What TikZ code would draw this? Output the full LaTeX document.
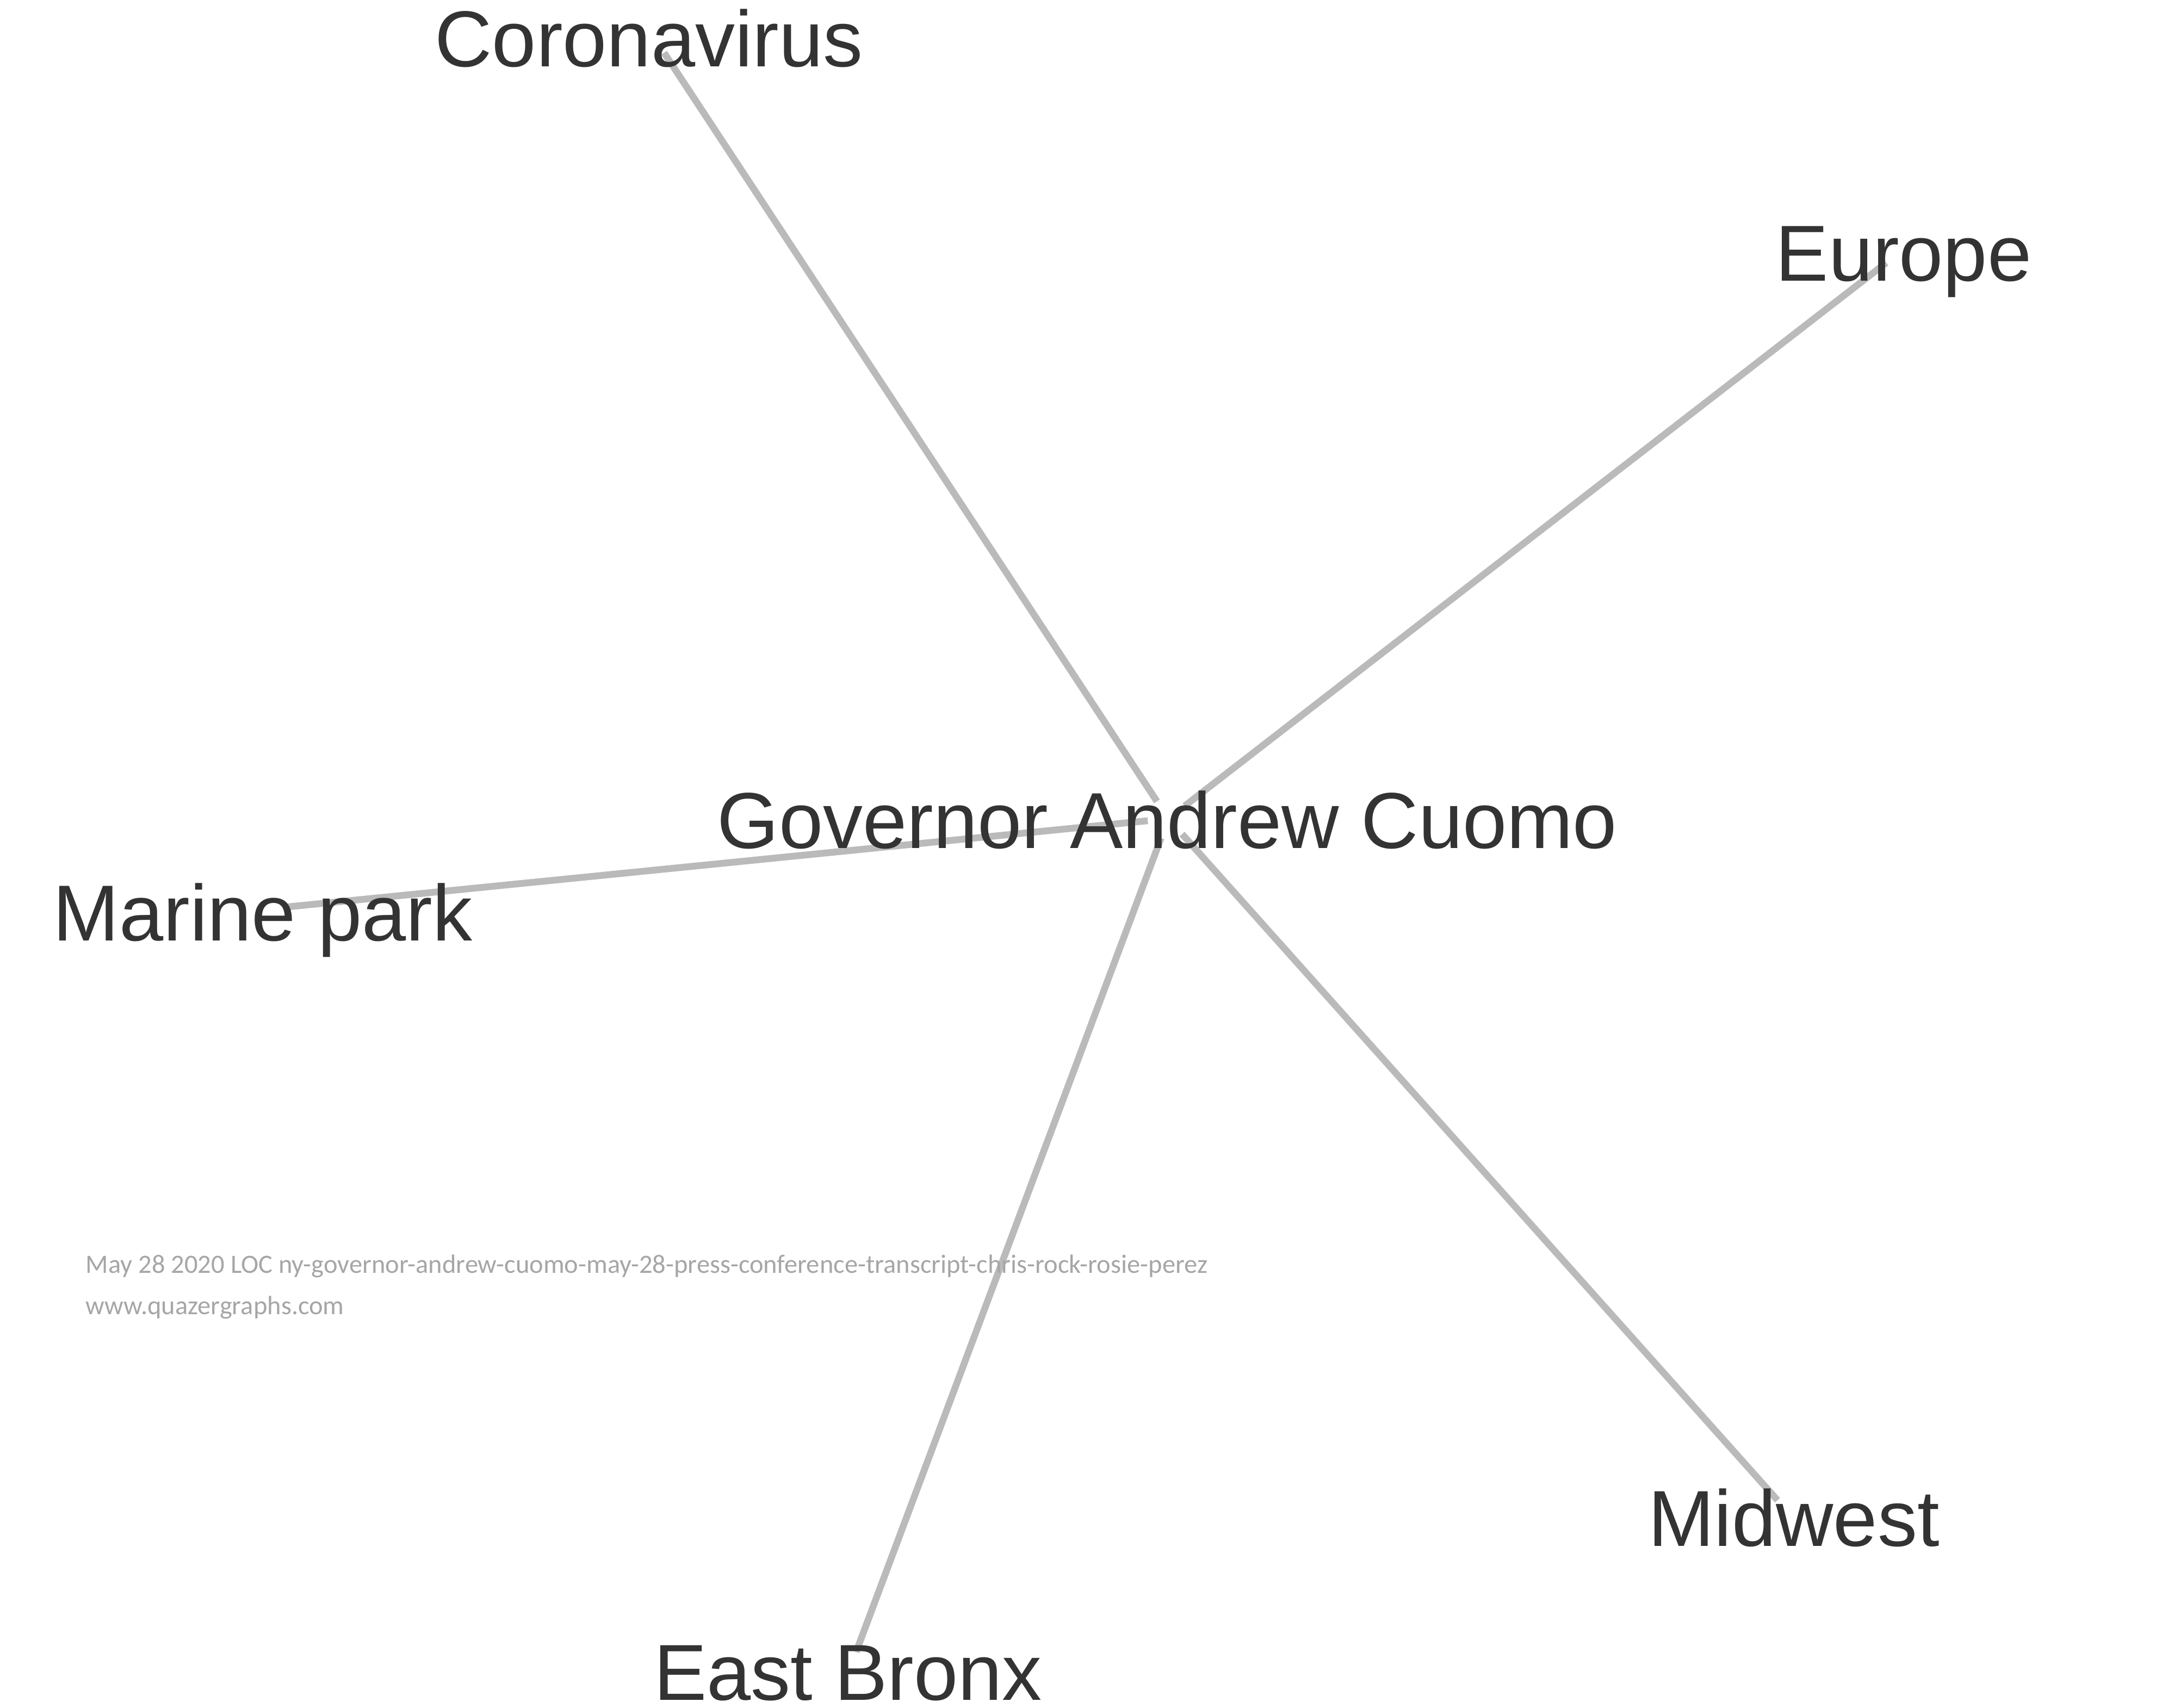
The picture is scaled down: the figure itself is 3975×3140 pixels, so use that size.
\documentclass[tikz,border=0pt]{standalone}
\usepackage{fontspec}
\setmainfont{Liberation Sans}
\newfontfamily\footfont{Carlito}
\definecolor{lbltext}{RGB}{51,51,51}
\definecolor{edgegray}{RGB}{186,186,186}
\definecolor{footgray}{RGB}{166,166,166}
\begin{document}
\begin{tikzpicture}[x=0.01cm, y=-0.01cm,
  edge/.style={draw=edgegray, line width=0.125cm, shorten >=0.38cm},
  lbl/.style={font=\fontsize{41.5}{50}\selectfont, text=lbltext, anchor=base, inner sep=0pt},
  foot/.style={font=\footfont\fontsize{13.8}{16}\selectfont, text=footgray, anchor=base west, inner sep=0pt}
]
\useasboundingbox (0,0) rectangle (3975,3140);

%% Edge end points
\coordinate (hub)     at (2148,1505);
\coordinate (corona)  at (1221,97);
\coordinate (europe)  at (3468,483);
\coordinate (marine)  at (521,1668);
\coordinate (bronx)   at (1574,3037);
\coordinate (midwest) at (3268,2758);

%% Edges (under the labels)
\foreach \e in {corona, europe, marine, bronx, midwest} {
  \draw[edge] (\e) -- (hub);
}

%% Labels
\node[lbl] (govLbl)     at (2146,1559) {Governor Andrew Cuomo};
\node[lbl] (coronaLbl)  at (1193,123)  {Coronavirus};
\node[lbl] (europeLbl)  at (3500,517)  {Europe};
\node[lbl] (marineLbl)  at (483,1729)  {Marine park};
\node[lbl] (midwestLbl) at (3298,2842) {Midwest};
\node[lbl] (bronxLbl)   at (1559,3125) {East Bronx};

%% Source note
\node[foot] (srcLbl) at (157,2340) {May 28 2020 LOC ny-governor-andrew-cuomo-may-28-press-conference-transcript-chris-rock-rosie-perez};
\node[foot] (urlLbl) at (157,2416) {www.quazergraphs.com};
\end{tikzpicture}
\end{document}
